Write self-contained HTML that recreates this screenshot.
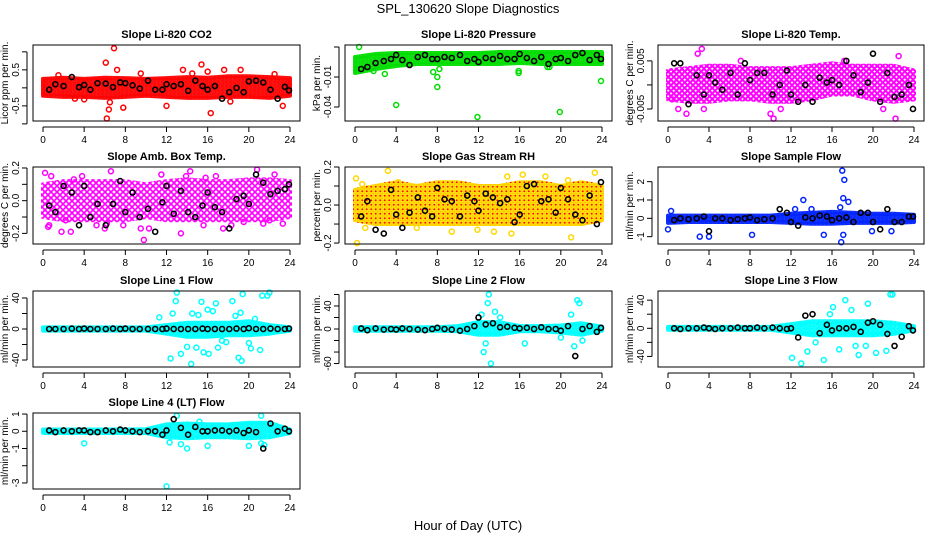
<!DOCTYPE html>
<html><head><meta charset="utf-8">
<style>
html,body{margin:0;padding:0;background:#fff;}
svg{display:block;font-family:"Liberation Sans",sans-serif;}
</style></head>
<body>
<svg id="chart" width="936" height="540" viewBox="0 0 936 540">
<defs id="defs"></defs>
<text x="468" y="13" font-size="13" text-anchor="middle">SPL_130620  Slope Diagnostics</text>
<text x="468" y="530" font-size="13" text-anchor="middle">Hour of Day (UTC)</text>
</svg>
<script>
// ---- data ----
const bandHours = [0,2,4,6,8,10,12,14,16,18,20,22,24];
const blackHours = [0.6,1.2,2.0,2.8,3.5,4.0,4.6,5.3,6.1,6.8,7.5,8.0,8.7,9.4,10.2,10.9,11.6,12.0,12.7,13.4,14.1,14.8,15.5,16.0,16.7,17.4,18.1,18.8,19.5,20.0,20.7,21.4,22.1,22.8,23.5,23.9];
const xTicks = [0,4,8,12,16,20,24];

const co2Lo = [-0.22,-0.25,-0.25,-0.28,-0.25,-0.22,-0.25,-0.28,-0.28,-0.25,-0.25,-0.28,-0.22];
const co2Hi = [0.25,0.28,0.25,0.28,0.27,0.25,0.27,0.3,0.28,0.32,0.32,0.3,0.27];
const co2OutH = [6.1,6.9,6.2,16.3,15.4,13.6,3.1,4.0,7.8,6.4,12.0,18.2,23.3,19.2,17.6,16.0,1.5,9.5,14.5,6.5,7.2,22.5];
const co2OutV = [0.7,1.1,-0.85,-0.7,0.65,0.5,-0.3,-0.32,-0.55,-0.6,-0.5,-0.38,-0.5,0.5,0.5,0.45,0.35,0.4,0.4,-0.4,0.5,0.38];
const co2Black = [-0.05,0.1,0.05,0.3,0.02,0.08,-0.05,0.13,0.12,0.02,0.15,0.13,0.07,-0.02,0.2,-0.05,-0.05,0.1,0.05,0.1,-0.08,0.2,0.05,-0.05,0.05,-0.3,-0.12,0,-0.12,0.18,0.2,0.15,-0.05,-0.3,0.03,-0.07];

const presLo = [-0.006,-0.002,0.001,0.003,0.003,0.003,0.003,0.003,0.004,0.003,0.003,0.003,0.003];
const presHi = [0.01,0.013,0.014,0.014,0.014,0.014,0.014,0.015,0.015,0.015,0.015,0.015,0.015];
const presOutH = [0.2,0.4,1.8,2.9,4.0,7.6,8.0,8.0,8.2,15.9,15.9,11.9,19.9,23.9,18.7,18.9];
const presOutV = [-0.002,0.02,-0.004,-0.007,-0.038,-0.005,-0.01,-0.02,-0.002,-0.004,-0.006,-0.05,-0.045,-0.014,0.0,0.0];
const presBlack = [-0.002,0.0,0.004,0.006,0.008,0.012,0.007,0.002,0.01,0.012,0.008,0.008,0.01,0.009,0.012,0.006,0.008,0.005,0.009,0.008,0.011,0.008,0.008,0.013,0.009,0.006,0.01,0.003,0.008,0.009,0.006,0.012,0.014,0.007,0.012,0.008];

const tempLo = [-0.003,-0.0035,-0.0035,-0.003,-0.003,-0.0035,-0.0035,-0.003,-0.002,-0.002,-0.003,-0.0035,-0.003];
const tempHi = [0.003,0.0035,0.004,0.004,0.0035,0.0035,0.0035,0.004,0.0045,0.004,0.004,0.004,0.003];
const tempOutH = [3.3,2.9,10.0,10.3,22.2,22.5,1.8,1.0,11.0,21.0,0.4,7.1,17.2,3.5];
const tempOutV = [0.0075,0.0065,-0.006,-0.007,-0.007,0.006,-0.006,-0.005,-0.005,-0.005,-0.003,0.005,0.005,-0.005];
const tempBlack = [0.0045,0.0045,-0.004,0.002,-0.002,0.002,0.0005,-0.001,0.0025,-0.002,0.0045,0.001,0.0025,0.0025,-0.002,0.0,0.003,-0.002,-0.0035,0.0,-0.0035,0.0015,0.0005,0.001,0.0,0.005,0.002,-0.0015,0.0005,0.0065,-0.0035,0.0025,-0.0025,-0.002,0.0,-0.005];

const ambLo = [-0.1,-0.12,-0.12,-0.12,-0.12,-0.1,-0.12,-0.12,-0.12,-0.12,-0.12,-0.12,-0.1];
const ambHi = [0.1,0.12,0.12,0.12,0.12,0.1,0.12,0.13,0.12,0.12,0.13,0.13,0.12];
const ambOutH = [0.2,0.6,0.8,1.8,2.2,2.7,3.8,5.2,6.0,6.6,7.8,9.5,9.8,10.3,11.5,13.4,14.3,15.6,15.8,17.5,18.3,19.5,20.8,21.4,22.5,23.3,0.5,3.0,6.2,13.9,16.8,22.0];
const ambOutV = [0.17,-0.15,0.15,-0.19,-0.12,-0.19,0.15,-0.15,-0.17,0.18,-0.15,-0.17,-0.24,-0.17,0.16,-0.2,0.18,-0.15,0.14,-0.17,-0.15,-0.13,0.19,-0.14,0.16,-0.14,-0.16,0.13,-0.14,0.15,0.15,-0.12];
const ambBlack = [-0.03,-0.07,0.09,0.05,-0.15,0.09,-0.1,-0.02,-0.15,-0.02,0.12,-0.07,0.05,-0.1,-0.05,-0.19,-0.01,0.09,-0.08,0.06,-0.07,-0.1,-0.03,0.05,-0.04,-0.07,-0.17,0.01,0.03,-0.02,0.16,0.11,0.04,0.06,0.07,0.1];

const rhLo = [-0.08,-0.1,-0.1,-0.1,-0.1,-0.1,-0.1,-0.1,-0.1,-0.1,-0.1,-0.1,-0.08];
const rhHi = [0.08,0.1,0.12,0.1,0.12,0.12,0.1,0.1,0.12,0.12,0.1,0.12,0.1];
const rhOutH = [0.1,0.2,0.7,3.2,4.2,11.9,13.5,14.8,16.3,20.7,21.0,23.3,1.0,6.0,9.4,18.5,15.2];
const rhOutV = [0.14,-0.2,0.11,0.18,0.12,-0.13,-0.14,0.15,0.16,0.13,-0.17,0.17,-0.12,-0.12,-0.14,0.15,-0.15];
const rhBlack = [-0.06,0.02,-0.13,-0.15,0.08,-0.05,-0.12,-0.04,0.04,-0.03,-0.06,0.09,0.03,0.02,-0.06,0.05,0.02,-0.03,0.06,0.04,0.01,0.03,-0.09,-0.05,0.1,0.11,0.02,0.03,-0.04,0.09,0.03,-0.05,-0.08,0.05,-0.1,0.12];

const flowLo = [-0.25,-0.2,-0.2,-0.2,-0.2,-0.2,-0.25,-0.3,-0.3,-0.25,-0.25,-0.25,-0.2];
const flowHi = [0.15,0.15,0.15,0.15,0.15,0.15,0.25,0.3,0.35,0.3,0.25,0.25,0.2];
const flowOutH = [17.0,17.2,17.1,17.6,16.8,13.2,3.1,4.0,16.9,17.1,0.0,15.2,8.2,0.3,12.4,14.0,19.9,21.8];
const flowOutV = [2.6,2.1,1.1,0.9,0.6,1.0,-1.0,-1.0,-1.3,-0.9,-0.6,-0.9,-0.9,0.4,0.5,0.5,-0.7,-0.7];
const flowBlack = [-0.1,0,-0.05,0,0.1,-0.7,0,0,-0.1,-0.05,0,0.05,-0.1,-0.05,0,0.5,0.3,-0.2,-0.4,0.05,0,0.15,0.1,-0.1,0,0.05,-0.2,0.3,0.3,-0.2,-0.6,0.5,-0.2,-0.2,0.1,0.1];

const l1Lo = [-2,-2,-2,-2,-2,-2,-6,-10,-10,-8,-8,-6,-2];
const l1Hi = [2,2,2,2,2,2,5,8,8,8,10,5,2];
const l1OutH = [12.4,13.0,12.9,13.4,14.4,14.0,14.9,15.4,16.0,16.8,16.1,17.0,18.4,19.0,19.3,19.4,20.2,21.1,21.3,21.8,22.0,12.6,14.5,15.1,16.5,18.7,19.2,11.3,20.0,17.4,17.8,15.6,20.6];
const l1OutV = [-38,47,36,-32,-45,-23,-24,35,25,33,-32,-24,36,-37,-41,45,-25,-27,43,43,47,20,20,18,23,17,21,15,-18,-15,-17,-30,13];
const l1Black = [0,0,0,0.5,0,0.5,0,0,0,0.5,0,0.5,0,0,0,0,0,0.5,0,0,0,0,0.5,0,0,0,0,0.5,0,1,0,0,0.5,0,0,0.5];

const l2Lo = [-3,-3,-3,-3,-3,-4,-10,-10,-4,-4,-6,-10,-3];
const l2Hi = [3,3,3,3,3,5,12,12,5,5,6,10,4];
const l2OutH = [13.0,12.9,13.2,12.5,21.6,21.8,21.3,16.5,20.0,12.7,13.6,14.1,21.0,22.1,12.3];
const l2OutV = [60,45,-60,-40,50,45,-30,-25,-15,-25,30,20,25,-20,25];
const l2Black = [1,-2,1,-1,0,-1,1,0,-1,-2,0,2,0,-1,-3,0,5,20,8,10,3,4,2,1,2,0,3,0,0,-3,5,-47,0,5,-5,2];

const l3Lo = [-2,-2,-2,-2,-2,-2,-6,-10,-10,-10,-10,-8,-3];
const l3Hi = [2,2,2,2,2,2,6,10,10,10,10,8,3];
const l3OutH = [21.7,21.9,17.3,16.1,13.0,15.2,19.3,20.3,12.1,13.6,14.4,18.3,18.6,19.5,16.7,21.3,15.8,17.9];
const l3OutV = [48,48,40,30,-50,-45,-25,-35,-42,-33,-20,-25,-38,35,-30,-32,20,26];
const l3Black = [0,-1,0,0,1,0,-1,0,0,1,0,0,1,0,1,0,-1,0,-13,18,20,-7,5,-3,0,0,2,-5,8,10,5,-8,-25,-12,3,-3];

const l4Lo = [-0.1,-0.1,-0.1,-0.1,-0.1,-0.1,-0.35,-0.4,-0.35,-0.35,-0.4,-0.35,-0.1];
const l4Hi = [0.1,0.1,0.1,0.1,0.1,0.12,0.4,0.45,0.4,0.4,0.5,0.5,0.1];
const l4OutH = [12.0,4.0,21.2,21.2,13.0,14.0,20.0,16.0,12.3,21.5,15.2,13.4];
const l4OutV = [-3.2,-0.7,0.9,-0.7,0.9,-1.0,-0.85,-0.85,-0.65,-0.8,0.55,-0.75];
const l4Black = [0.05,-0.05,0.05,0,0.05,0.05,-0.05,-0.05,0.05,0,0.1,0.05,0,-0.05,0,0,-0.2,0.05,0.7,0.2,-0.2,0.25,0,0,0.05,0.05,0,0.05,-0.1,0.05,-0.05,-1.0,0.45,0,0.15,0];

// ---- layout ----
const colL = [33,345,658], colR = [300,612,924];
const rowT = [45,167,291,413], rowB = [121,244,367,489];

const panels = [
 {name:'co2', title:'Slope Li-820 CO2', ylab:'Licor ppm per min.', c:0,r:0, ymin:-0.92,ymax:1.19, ticks:[-1,-0.5,0,0.5,1], labels:['','-0.5','','0.5',''], col:'#ff0000', sp:4, lo:co2Lo,hi:co2Hi,oh:co2OutH,ov:co2OutV,bk:co2Black},
 {name:'pressure', title:'Slope Li-820 Pressure', ylab:'kPa per min.', c:1,r:0, ymin:-0.054,ymax:0.022, ticks:[0.02,-0.01,-0.04], labels:['','-0.01','-0.04'], col:'#00dd00', sp:4, lo:presLo,hi:presHi,oh:presOutH,ov:presOutV,bk:presBlack},
 {name:'li820-temp', title:'Slope Li-820 Temp.', ylab:'degrees C per min.', c:2,r:0, ymin:-0.0075,ymax:0.0083, ticks:[-0.005,0,0.005], labels:['-0.005','','0.005'], col:'#ff00ff', sp:5.5, lo:tempLo,hi:tempHi,oh:tempOutH,ov:tempOutV,bk:tempBlack},
 {name:'amb-box-temp', title:'Slope Amb. Box Temp.', ylab:'degrees C per min.', c:0,r:1, ymin:-0.265,ymax:0.206, ticks:[-0.2,-0.1,0,0.1,0.2], labels:['-0.2','','0.0','','0.2'], col:'#ff00ff', sp:6, lo:ambLo,hi:ambHi,oh:ambOutH,ov:ambOutV,bk:ambBlack},
 {name:'gas-stream-rh', title:'Slope Gas Stream RH', ylab:'percent per min.', c:1,r:1, ymin:-0.205,ymax:0.2, ticks:[-0.2,-0.1,0,0.1,0.2], labels:['-0.2','','0.0','','0.2'], col:'#ffd800', dot:'#ff0000', sp:4.5, lo:rhLo,hi:rhHi,oh:rhOutH,ov:rhOutV,bk:rhBlack},
 {name:'sample-flow', title:'Slope Sample Flow', ylab:'ml/min per min.', c:2,r:1, ymin:-1.4,ymax:2.8, ticks:[-1,0,1,2], labels:['-1','0','1','2'], col:'#0022ff', sp:4, lo:flowLo,hi:flowHi,oh:flowOutH,ov:flowOutV,bk:flowBlack},
 {name:'line1-flow', title:'Slope Line 1 Flow', ylab:'ml/min per min.', c:0,r:2, ymin:-49,ymax:49, ticks:[-40,-20,0,20,40], labels:['-40','','0','','40'], col:'#00ffff', sp:4.5, lo:l1Lo,hi:l1Hi,oh:l1OutH,ov:l1OutV,bk:l1Black},
 {name:'line2-flow', title:'Slope Line 2 Flow', ylab:'ml/min per min.', c:1,r:2, ymin:-66,ymax:66, ticks:[-60,-40,-20,0,20,40,60], labels:['-60','','','0','','40',''], col:'#00ffff', sp:4.5, lo:l2Lo,hi:l2Hi,oh:l2OutH,ov:l2OutV,bk:l2Black},
 {name:'line3-flow', title:'Slope Line 3 Flow', ylab:'ml/min per min.', c:2,r:2, ymin:-55,ymax:53, ticks:[-40,-20,0,20,40], labels:['-40','','0','','40'], col:'#00ffff', sp:4.5, lo:l3Lo,hi:l3Hi,oh:l3OutH,ov:l3OutV,bk:l3Black},
 {name:'line4-flow', title:'Slope Line 4 (LT) Flow', ylab:'ml/min per min.', c:0,r:3, ymin:-3.35,ymax:1.06, ticks:[-3,-2,-1,0,1], labels:['-3','','-1','0','1'], col:'#00ffff', sp:4.5, lo:l4Lo,hi:l4Hi,oh:l4OutH,ov:l4OutV,bk:l4Black}
];

const NS = 'http://www.w3.org/2000/svg';
const svg = document.getElementById('chart');
const defs = document.getElementById('defs');
function mk(tag, attrs, parent){
  const e = document.createElementNS(NS, tag);
  for (const k in attrs) e.setAttribute(k, attrs[k]);
  (parent||svg).appendChild(e);
  return e;
}

panels.forEach(p => {
  const L = colL[p.c], R = colR[p.c], T = rowT[p.r], B = rowB[p.r];
  const x0 = L + 10, x1 = R - 10;
  const xs = h => x0 + (h/24)*(x1-x0);
  const ys = v => B - (v - p.ymin)/(p.ymax - p.ymin)*(B-T);

  // texture pattern of hollow circles
  const s = p.sp;
  const pat = mk('pattern', {id: 'pat-' + p.name, patternUnits: 'userSpaceOnUse', width: s, height: s}, defs);
  [[0,0],[s,0],[0,s],[s,s],[s/2,s/2]].forEach(q => {
    mk('circle', {cx: q[0], cy: q[1], r: 2.3, fill: 'none', stroke: p.col, 'stroke-width': 1.4}, pat);
    if (p.dot) mk('circle', {cx: q[0], cy: q[1], r: 0.9, fill: p.dot}, pat);
  });

  const g = mk('g', {});
  
  

  let pts = [];
  bandHours.forEach((h,i) => pts.push(xs(h).toFixed(1)+','+ys(p.hi[i]).toFixed(1)));
  for (let i = bandHours.length-1; i >= 0; i--) pts.push(xs(bandHours[i]).toFixed(1)+','+ys(p.lo[i]).toFixed(1));
  const band = mk('polygon', {points: pts.join(' '), fill: 'url(#pat-' + p.name + ')', stroke: 'url(#pat-' + p.name + ')', 'stroke-width': 4, 'stroke-linejoin':'round'}, g);
  
  

  p.oh.forEach((h,i) => {
    const c = mk('circle', {cx: xs(h), cy: ys(p.ov[i]), r: 2.5, fill: 'none', stroke: p.col, 'stroke-width': 1.5}, g);
    
    
  });
  blackHours.forEach((h,i) => {
    const c = mk('circle', {cx: xs(h), cy: ys(p.bk[i]), r: 2.5, fill: 'none', stroke: '#000', 'stroke-width': 1.6}, g);
    
    
  });

  const box = mk('rect', {x: L, y: T, width: R-L, height: B-T, fill: 'none', stroke: '#000', 'stroke-width': 1}, g);
  
  

  const t = mk('text', {x: (L+R)/2, y: T-7, 'font-size': 11, 'font-weight': 'bold', 'text-anchor': 'middle'}, g);
  t.textContent = p.title;
  
  

  const xa = mk('g', {}, g);
  
  
  mk('line', {x1: xs(0), x2: xs(24), y1: B+6, y2: B+6, stroke: '#000'}, xa);
  xTicks.forEach(v => {
    mk('line', {x1: xs(v), x2: xs(v), y1: B+6, y2: B+11, stroke: '#000'}, xa);
    const tl = mk('text', {x: xs(v), y: B+22, 'font-size': 10, 'text-anchor': 'middle'}, xa);
    tl.textContent = v;
    
    
  });

  const ya = mk('g', {}, g);
  
  
  const ty = p.ticks.map(ys);
  mk('line', {x1: L-6, x2: L-6, y1: Math.min(...ty), y2: Math.max(...ty), stroke: '#000'}, ya);
  p.ticks.forEach((v,i) => {
    const yy = ys(v);
    mk('line', {x1: L-11, x2: L-6, y1: yy, y2: yy, stroke: '#000'}, ya);
    if (p.labels[i]) {
      const tl = mk('text', {x: 0, y: 0, 'font-size': 10, 'text-anchor': 'middle', transform: `translate(${L-14},${yy}) rotate(-90)`}, ya);
      tl.textContent = p.labels[i];
      
      
    }
  });
  const yl = mk('text', {x: 0, y: 0, 'font-size': 10, 'text-anchor': 'middle', transform: `translate(${L-25},${(T+B)/2}) rotate(-90)`}, ya);
  yl.textContent = p.ylab;
  
  
});
</script>
</body></html>
